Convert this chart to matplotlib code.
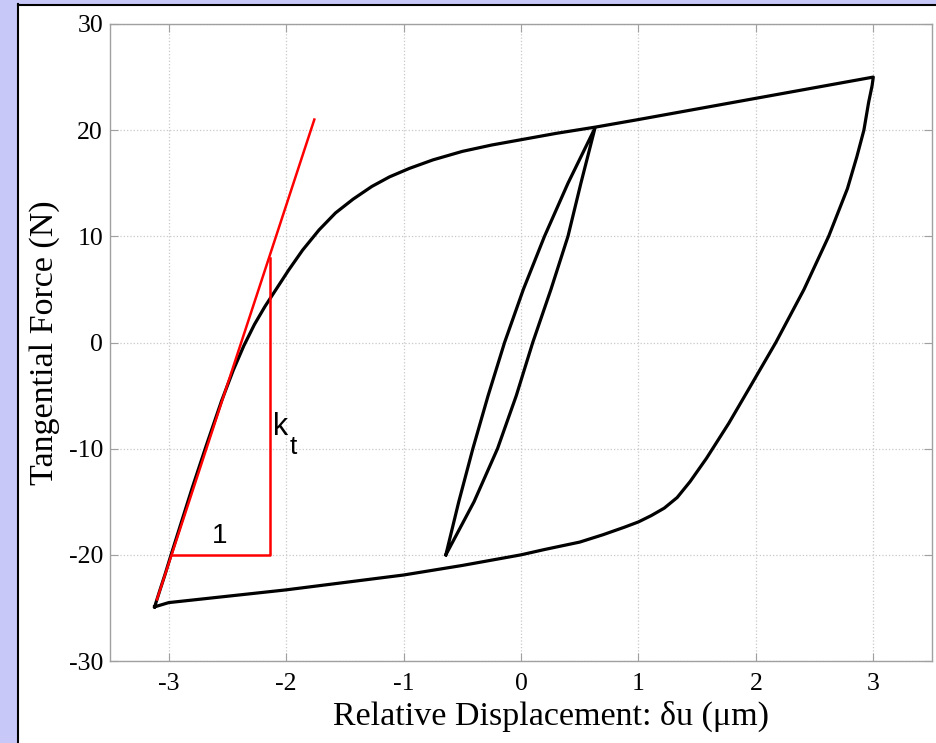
import numpy as np
import matplotlib
matplotlib.use("Agg")
from matplotlib import pyplot as plt
from matplotlib.patches import Rectangle

plt.rcParams["axes.unicode_minus"] = False

# outer loop, loading branch (bottom-left -> top-right)
up_x = [-3.12, -3.08, -3.03, -2.98, -2.9, -2.8, -2.68, -2.55, -2.45, -2.36, -2.27, -2.18, -2.08,
        -1.98, -1.86, -1.72, -1.58, -1.43, -1.27, -1.12, -0.95, -0.75, -0.5, -0.25, 0.0, 0.3, 0.64,
        1.0, 1.5, 2.0, 2.5, 3.0]
up_y = [-24.9, -23.5, -21.8, -20.0, -17.2, -13.7, -9.7, -5.5, -2.6, -0.3, 1.7, 3.4, 5.1,
        6.8, 8.7, 10.6, 12.2, 13.5, 14.7, 15.6, 16.4, 17.2, 18.0, 18.6, 19.1, 19.7, 20.3,
        21.0, 22.0, 23.0, 24.0, 25.0]

# outer loop, unloading branch (top-right -> bottom-left)
dn_x = [3.0, 2.99, 2.96, 2.92, 2.86, 2.78, 2.62, 2.41, 2.17, 1.96, 1.77, 1.58, 1.44, 1.33, 1.22,
        1.11, 1.0, 0.88, 0.7, 0.5, 0.2, 0.0, -0.5, -1.0, -1.5, -2.0, -2.5, -3.0, -3.12]
dn_y = [25.0, 24.2, 22.6, 20.0, 17.5, 14.5, 10.0, 5.0, 0.0, -4.0, -7.6, -10.9, -13.1, -14.6, -15.6,
        -16.3, -16.9, -17.4, -18.1, -18.8, -19.5, -20.0, -21.0, -21.9, -22.6, -23.3, -23.9, -24.5, -24.9]

# inner (minor) loop
in_up_x = [-0.64, -0.53, -0.41, -0.28, -0.14, 0.02, 0.2, 0.4, 0.63]
in_up_y = [-20.0, -15.0, -10.0, -5.0, 0.0, 5.0, 10.0, 15.0, 20.2]
in_dn_x = [0.63, 0.51, 0.40, 0.255, 0.10, -0.04, -0.2, -0.4, -0.64]
in_dn_y = [20.2, 15.0, 10.0, 5.0, 0.0, -5.0, -10.0, -15.0, -20.0]

# tangent line and slope triangle
tan_x = [-3.10, -1.76]
tan_y = [-24.2, 21.0]
tri_x = [-2.975, -2.14, -2.14]
tri_y = [-20.0, -20.0, 8.0]

W, H = 936, 743
fig = plt.figure(figsize=(W / 100, H / 100), dpi=100, facecolor="white")

lav = "#c8c8f8"
fig.patches.append(Rectangle((0, 0), 17 / W, 1, transform=fig.transFigure, color=lav, zorder=0))
fig.patches.append(Rectangle((0, 1 - 4 / H), 1, 4 / H, transform=fig.transFigure, color=lav, zorder=0))
fig.add_artist(plt.Line2D([17.5 / W, 17.5 / W], [0, 1 - 4 / H], transform=fig.transFigure, color="black", lw=1.5))
fig.add_artist(plt.Line2D([17.5 / W, 1], [1 - 4.5 / H, 1 - 4.5 / H], transform=fig.transFigure, color="black", lw=1.5))

ax = fig.add_axes([110 / W, 82 / H, (932 - 110) / W, (661 - 24) / H])

ax.plot(up_x + dn_x[1:], up_y + dn_y[1:], color="black", lw=2.3, solid_joinstyle="round")
ax.plot(in_up_x + in_dn_x[1:], in_up_y + in_dn_y[1:], color="black", lw=2.3, solid_joinstyle="round")
ax.plot(tan_x, tan_y, color="red", lw=1.8)
ax.plot(tri_x, tri_y, color="red", lw=1.8)

ax.text(-2.57, -18.2, "1", fontsize=20, family="Liberation Sans", ha="center", va="center")
ax.text(-2.11, -8.0, "k", fontsize=22, family="Liberation Sans", ha="left", va="center")
ax.text(-1.97, -9.8, "t", fontsize=19, family="Liberation Sans", ha="left", va="center")

ax.set_xlim(-3.5, 3.5)
ax.set_ylim(-30, 30)
ax.set_xticks([-3, -2, -1, 0, 1, 2, 3])
ax.set_yticks([-30, -20, -10, 0, 10, 20, 30])
ax.grid(True, color="#c8c8c8", ls=":", lw=0.9)
ax.set_axisbelow(True)
for s in ax.spines.values():
    s.set_color("#a0a0a0")
    s.set_linewidth(1.0)
ax.tick_params(direction="in", length=6, color="#a0a0a0", labelsize=18.5, top=True, right=True)
ax.tick_params(axis="x", pad=9)
ax.tick_params(axis="y", pad=5)
for lab in ax.get_xticklabels() + ax.get_yticklabels():
    lab.set_family("Liberation Serif")

ax.set_xlabel("Relative Displacement: δu (μm)", fontsize=24.5, family="Liberation Serif")
ax.set_ylabel("Tangential Force (N)", fontsize=24.5, family="Liberation Serif")
ax.xaxis.set_label_coords(0.536, -0.063)
ax.yaxis.set_label_coords(-0.061, 0.5)

fig.savefig("out.png", dpi=100, facecolor=fig.get_facecolor())
